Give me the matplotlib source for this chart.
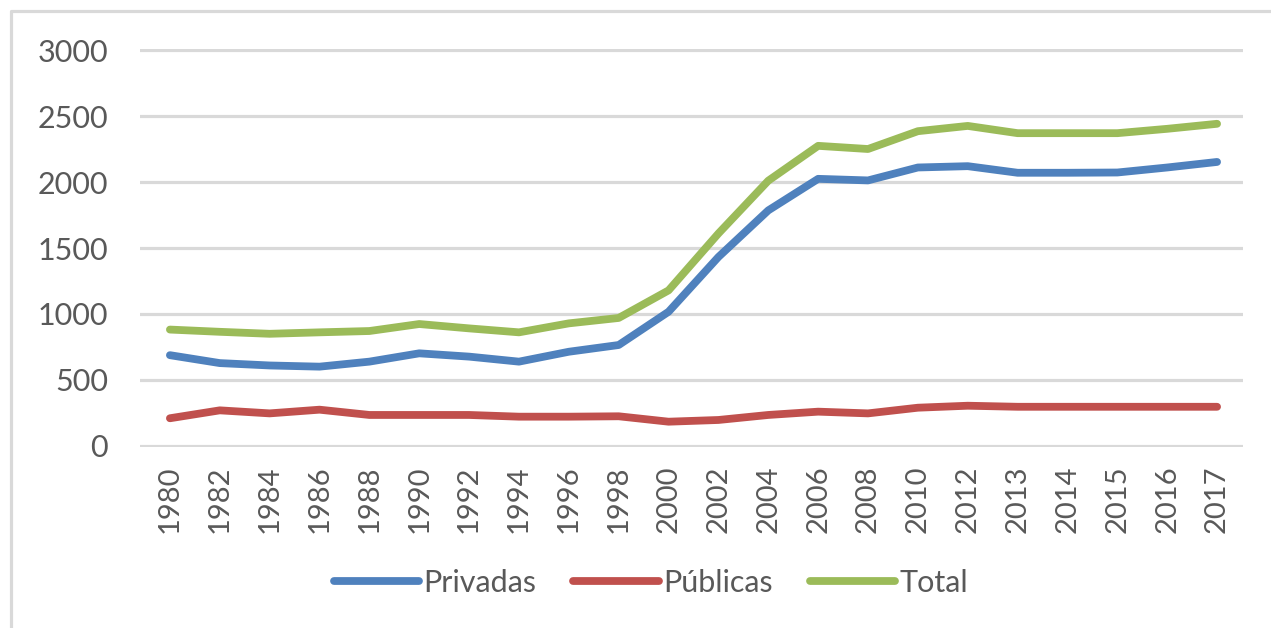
import matplotlib
matplotlib.use("Agg")
import matplotlib.pyplot as plt
from matplotlib.lines import Line2D

# Données (nombre d'établissements)
anos = ["1980", "1982", "1984", "1986", "1988", "1990", "1992", "1994", "1996",
        "1998", "2000", "2002", "2004", "2006", "2008", "2010", "2012", "2013",
        "2014", "2015", "2016", "2017"]
privadas = [688, 628, 610, 601, 639, 702, 677, 639, 714, 765, 1017, 1432, 1785,
            2024, 2012, 2110, 2120, 2070, 2070, 2072, 2110, 2152]
publicas = [210, 270, 247, 275, 235, 235, 235, 222, 222, 225, 184, 197, 235,
            260, 247, 290, 305, 297, 297, 297, 297, 297]
total = [882, 865, 850, 861, 871, 924, 891, 861, 929, 970, 1179, 1610, 2010,
         2274, 2250, 2385, 2425, 2370, 2370, 2370, 2403, 2441]
y_ticks = [0, 500, 1000, 1500, 2000, 2500, 3000]

C_PRIV = "#4F81BD"
C_PUB = "#C0504D"
C_TOT = "#9BBB59"
C_GRID = "#D9D9D9"
C_TXT = "#595959"
FONT = "Lato"

W, H = 1271, 628
fig = plt.figure(figsize=(W / 100, H / 100), dpi=100)

# cadre gris (seuls le haut et la gauche sont visibles)
fig.add_artist(Line2D([11 / W, 11 / W, 1.05], [-0.05, 1 - 11 / H, 1 - 11 / H],
                      transform=fig.transFigure, color=C_GRID, lw=2.3))

ax = fig.add_axes([140 / W, (H - 447.3) / H, 1103 / W, 398.6 / H])
x = list(range(len(anos)))
ax.plot(x, privadas, color=C_PRIV, lw=5.6, solid_capstyle="round", label="Privadas")
ax.plot(x, publicas, color=C_PUB, lw=5.6, solid_capstyle="round", label="Públicas")
ax.plot(x, total, color=C_TOT, lw=5.6, solid_capstyle="round", label="Total")

ax.set_xlim(-0.6, len(anos) - 1 + 0.52)
ax.set_ylim(-10, 3010)
ax.set_yticks(y_ticks)
ax.set_yticklabels([str(v) for v in y_ticks], fontsize=22, color=C_TXT, family=FONT)
ax.set_xticks(x)
ax.set_xticklabels(anos, rotation=90, fontsize=21, color=C_TXT, family=FONT)
ax.tick_params(axis="y", length=0, pad=23)
ax.tick_params(axis="x", length=0, pad=13)
for s in ax.spines.values():
    s.set_visible(False)
ax.yaxis.grid(True, color=C_GRID, lw=2.3)
ax.set_axisbelow(True)

leg = ax.legend(loc="center", bbox_to_anchor=(651 / W, 1 - 583 / H),
                bbox_transform=fig.transFigure, ncol=3, frameon=False,
                prop={"family": FONT, "size": 22}, handlelength=2.8,
                handletextpad=0.15, columnspacing=1.2)
for t in leg.get_texts():
    t.set_color(C_TXT)

fig.savefig("out.png", dpi=100, facecolor="white")
